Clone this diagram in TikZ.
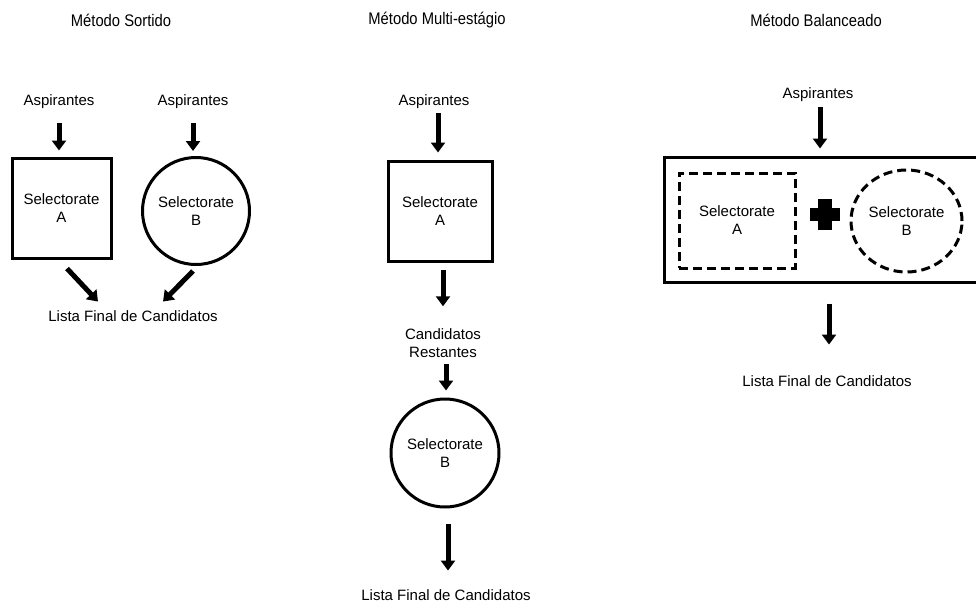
\documentclass[tikz,border=0pt]{standalone}
\usepackage{fontspec}
\setmainfont{Liberation Sans}
\newfontfamily\titlefont[FakeStretch=0.88]{Liberation Sans}
\usetikzlibrary{arrows.meta,shapes.geometric,calc}
\begin{document}
\begin{tikzpicture}[x=1pt,y=-1pt,
  lbl/.style={font=\fontsize{15pt}{18pt}\selectfont, align=center, inner sep=0pt, text height=11pt, text depth=3.5pt},
  ttl/.style={font=\titlefont\fontsize{16.8pt}{20pt}\selectfont, inner sep=0pt},
  inbox/.style={font=\fontsize{15pt}{18pt}\selectfont, align=center, inner sep=0pt},
  solidbox/.style={inbox, draw, line width=3pt, rectangle},
  solidcirc/.style={inbox, draw, line width=3pt, circle},
  dashbox/.style={inbox, draw, line width=3pt, rectangle, dash pattern=on 9pt off 5pt},
  dashell/.style={inbox, draw, line width=3pt, ellipse, dash pattern=on 9pt off 5pt},
  arr/.style={line width=5pt, -{Triangle[length=10pt,width=14pt]}}
]
\useasboundingbox (0,0) rectangle (976,608);
\fill[white] (0,0) rectangle (976,608);

% ---------- Método Sortido ----------
\node[ttl] (t1) at (121,20) {Método Sortido};
\node[lbl] (asp1) at (59,102) {Aspirantes};
\node[lbl] (asp2) at (193,102) {Aspirantes};
\node[solidbox, minimum width=99pt, minimum height=100pt] (sqA) at (61.5,208) {Selectorate\\A};
\node[solidcirc, minimum size=107pt] (ciB) at (196,211) {Selectorate\\B};
\node[lbl] (lista1) at (133,318) {Lista Final de Candidatos};
\draw[arr, shorten <=14pt, shorten >=6pt] (asp1.south) -- (asp1.south |- sqA.north);
\draw[arr, shorten <=14pt, shorten >=5pt] (asp2.south) -- (asp2.south |- ciB.north);
\coordinate (tipA) at ([xshift=-35pt,yshift=9pt]lista1.north);
\coordinate (tipB) at ([xshift=30pt,yshift=9pt]lista1.north);
\coordinate (srcA) at ([xshift=5.5pt,yshift=-9pt]sqA.south);
\coordinate (srcB) at ([xshift=-3pt,yshift=-5pt]ciB.south);
\draw[arr] (srcA) -- (tipA);
\draw[arr] (srcB) -- (tipB);

% ---------- Método Multi-estágio ----------
\node[ttl] (t2) at (437,20) {Método Multi-estágio};
\node[lbl] (asp3) at (434,102) {Aspirantes};
\node[solidbox, minimum width=104pt, minimum height=100pt] (sqA2) at (440,211) {Selectorate\\A};
\node[inbox] (cand) at (443,343) {Candidatos\\Restantes};
\node[solidcirc, minimum size=108pt] (ciB2) at (445,453) {Selectorate\\B};
\node[lbl] (lista2) at (446,597) {Lista Final de Candidatos};
\draw[arr, shorten <=4pt, shorten >=7pt] ([xshift=4pt]asp3.south) -- ([xshift=4pt]asp3.south |- sqA2.north);
\draw[arr, shorten <=7pt, shorten >=22pt] ([xshift=3pt]sqA2.south) -- ([xshift=3pt]sqA2.south |- cand.north);
\draw[arr, shorten <=6pt, shorten >=7pt] ([xshift=3pt]cand.south) -- ([xshift=3pt]cand.south |- ciB2.north);
\draw[arr, shorten <=15pt, shorten >=19pt] ([xshift=3pt]ciB2.south) -- ([xshift=3pt]ciB2.south |- lista2.north);

% ---------- Método Balanceado ----------
\node[ttl] (t3) at (816,20) {Método Balanceado};
\node[lbl] (asp4) at (818,95) {Aspirantes};
\node[draw, line width=3pt, rectangle, minimum width=316pt, minimum height=125pt, inner sep=0pt] (big) at (822,219.5) {};
\node[dashbox, minimum width=116pt, minimum height=95pt] (dA) at (737,220.5) {Selectorate\\A};
\node[dashell, minimum width=111pt, minimum height=102pt] (dB) at (906.5,221) {Selectorate\\B};
\node[fill, rectangle, inner sep=0pt, minimum width=30pt, minimum height=13pt] (plush) at (825,214) {};
\node[fill, rectangle, inner sep=0pt, minimum width=14pt, minimum height=31pt] (plusv) at (825,214) {};
\node[lbl] (lista3) at (827,383) {Lista Final de Candidatos};
\draw[arr, shorten <=5pt, shorten >=7pt] ([xshift=2pt]asp4.south) -- ([xshift=2pt]asp4.south |- big.north);
\draw[arr, shorten <=20pt, shorten >=31pt] ([xshift=7pt]big.south) -- ([xshift=7pt]big.south |- lista3.north);
\end{tikzpicture}
\end{document}
